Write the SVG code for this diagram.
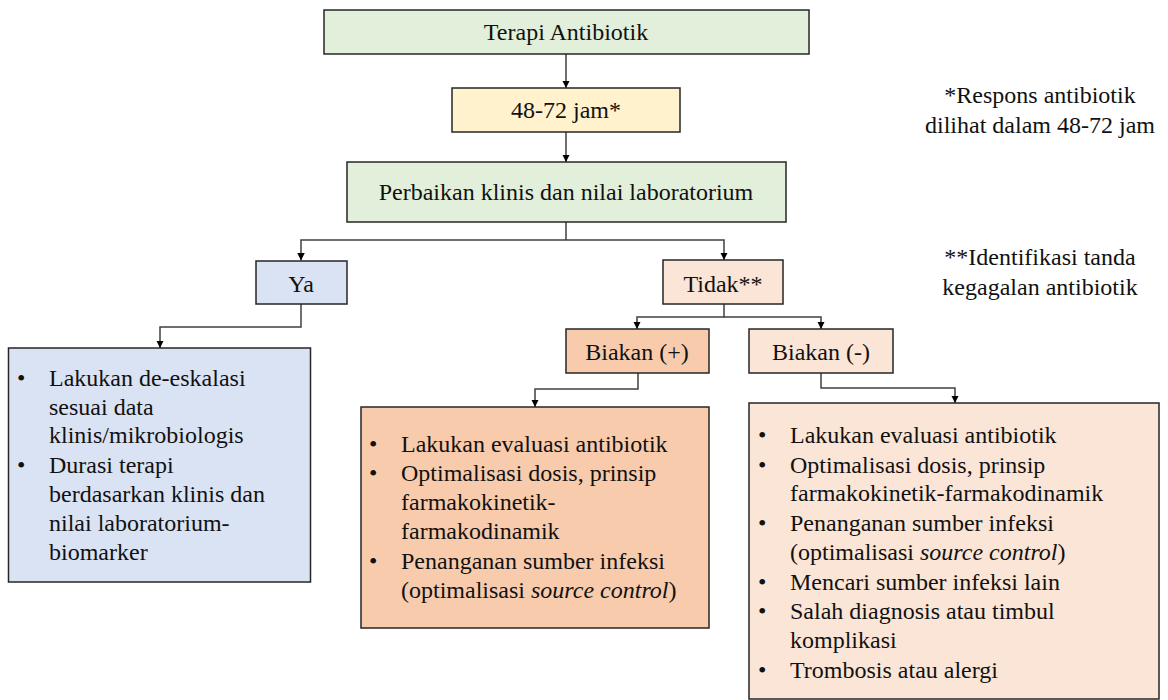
<svg xmlns="http://www.w3.org/2000/svg" width="1168" height="700" viewBox="0 0 1168 700">
<style>
  .box { stroke: #262626; stroke-width: 1.5; }
  .t { font-family: 'Liberation Serif', 'DejaVu Serif', serif; font-size: 24px; fill: #111; }
  .c { text-anchor: middle; }
  .conn { fill: none; stroke: #404040; stroke-width: 1.5; }
  .green { fill: #E2EFDA; }
  .yellow { fill: #FFF2CC; }
  .blue { fill: #DAE3F3; }
  .peach { fill: #F8CBAD; }
  .light { fill: #FBE5D6; }
</style>
<defs>
  <marker id="arr" viewBox="0 0 10 10" refX="10" refY="5" markerWidth="5" markerHeight="5" orient="auto" markerUnits="strokeWidth">
    <path d="M0,0 L10,5 L0,10 Z" fill="#000"/>
  </marker>
</defs>
<rect width="1168" height="700" fill="#fff"/>

<g id="connectors">
  <path class="conn" d="M566,54 V88" marker-end="url(#arr)"/>
  <path class="conn" d="M566,132 V162" marker-end="url(#arr)"/>
  <path class="conn" d="M566,222 V240 M566,240 H301 V260.5" marker-end="url(#arr)"/>
  <path class="conn" d="M566,240 H724 V260" marker-end="url(#arr)"/>
  <path class="conn" d="M301,304 V327 H160 V348" marker-end="url(#arr)"/>
  <path class="conn" d="M724,304 V317 H637 V329" marker-end="url(#arr)"/>
  <path class="conn" d="M724,317 H821 V329" marker-end="url(#arr)"/>
  <path class="conn" d="M638,373 V389 H535 V407" marker-end="url(#arr)"/>
  <path class="conn" d="M821,373 V388 H955 V403" marker-end="url(#arr)"/>
</g>

<g id="terapi">
  <rect class="box green" x="324" y="10" width="485" height="44"/>
  <text class="t c" x="566" y="40" font-family="Liberation Serif, serif">Terapi Antibiotik</text>
</g>
<g id="jam">
  <rect class="box yellow" x="452" y="88" width="228" height="44"/>
  <text class="t c" x="566" y="118">48-72 jam*</text>
</g>
<g id="perbaikan">
  <rect class="box green" x="347" y="162" width="439" height="60"/>
  <text class="t c" x="566" y="200">Perbaikan klinis dan nilai laboratorium</text>
</g>
<g id="ya">
  <rect class="box blue" x="256" y="261" width="91" height="43"/>
  <text class="t c" x="301" y="292">Ya</text>
</g>
<g id="tidak">
  <rect class="box light" x="663" y="260" width="120" height="44"/>
  <text class="t c" x="723" y="292">Tidak**</text>
</g>
<g id="biakan-plus">
  <rect class="box peach" x="566" y="329" width="143" height="44"/>
  <text class="t c" x="637" y="360">Biakan (+)</text>
</g>
<g id="biakan-minus">
  <rect class="box light" x="749" y="329" width="144" height="44"/>
  <text class="t c" x="821" y="360">Biakan (-)</text>
</g>

<g id="ya-detail">
  <rect class="box blue" x="8.5" y="348" width="302" height="234"/>
  <g class="t">
    <text x="17" y="386">•</text>
    <text x="49" y="386">Lakukan de-eskalasi</text>
    <text x="49" y="415">sesuai data</text>
    <text x="49" y="443">klinis/mikrobiologis</text>
    <text x="17" y="473">•</text>
    <text x="49" y="473">Durasi terapi</text>
    <text x="49" y="502">berdasarkan klinis dan</text>
    <text x="49" y="531">nilai laboratorium-</text>
    <text x="49" y="560">biomarker</text>
  </g>
</g>

<g id="plus-detail">
  <rect class="box peach" x="361" y="407" width="348" height="221"/>
  <g class="t">
    <text x="369" y="452">•</text>
    <text x="401" y="452">Lakukan evaluasi antibiotik</text>
    <text x="369" y="481">•</text>
    <text x="401" y="481">Optimalisasi dosis, prinsip</text>
    <text x="401" y="510">farmakokinetik-</text>
    <text x="401" y="539">farmakodinamik</text>
    <text x="369" y="569">•</text>
    <text x="401" y="569">Penanganan sumber infeksi</text>
    <text x="401" y="598">(optimalisasi <tspan font-style="italic">source control</tspan>)</text>
  </g>
</g>

<g id="minus-detail">
  <rect class="box light" x="749" y="403" width="410" height="296"/>
  <g class="t">
    <text x="758" y="443">•</text>
    <text x="790" y="443">Lakukan evaluasi antibiotik</text>
    <text x="758" y="473">•</text>
    <text x="790" y="473">Optimalisasi dosis, prinsip</text>
    <text x="790" y="501">farmakokinetik-farmakodinamik</text>
    <text x="758" y="531">•</text>
    <text x="790" y="531">Penanganan sumber infeksi</text>
    <text x="790" y="560">(optimalisasi <tspan font-style="italic">source control</tspan>)</text>
    <text x="758" y="590">•</text>
    <text x="790" y="590">Mencari sumber infeksi lain</text>
    <text x="758" y="619">•</text>
    <text x="790" y="619">Salah diagnosis atau timbul</text>
    <text x="790" y="648">komplikasi</text>
    <text x="758" y="678">•</text>
    <text x="790" y="678">Trombosis atau alergi</text>
  </g>
</g>

<g id="notes">
  <text class="t c" x="1040" y="103">*Respons antibiotik</text>
  <text class="t c" x="1040" y="133">dilihat dalam 48-72 jam</text>
  <text class="t c" x="1040" y="265">**Identifikasi tanda</text>
  <text class="t c" x="1040" y="295">kegagalan antibiotik</text>
</g>
</svg>
